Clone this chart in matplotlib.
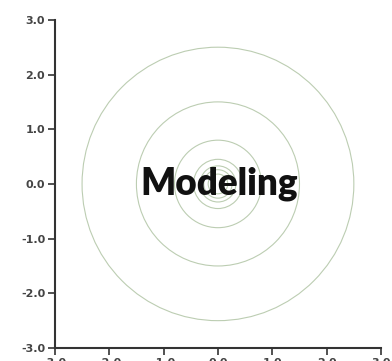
import numpy as np
import matplotlib
matplotlib.use("Agg")
import matplotlib.pyplot as plt
from matplotlib.patches import Circle

# ring radii (data units)
radii = [2.5, 1.5, 0.8, 0.45, 0.33, 0.26, 0.18]
ticks = [-3.0, -2.0, -1.0, 0.0, 1.0, 2.0, 3.0]
title_text = "Modeling"

fig = plt.figure(figsize=(3.92, 3.61), dpi=100)
ax = fig.add_axes([0.140, 0.036, 0.832, 0.909])

for r in radii:
    ax.add_patch(Circle((0, 0), r, fill=False, edgecolor="#bccdb2", linewidth=0.8))

ax.set_xlim(-3, 3)
ax.set_ylim(-3, 3)
ax.set_xticks(ticks)
ax.set_yticks(ticks)
ax.set_xticklabels([f"{t:.1f}" for t in ticks])
ax.set_yticklabels([f"{t:.1f}" for t in ticks])

for side in ["top", "right"]:
    ax.spines[side].set_visible(False)
for side in ["left", "bottom"]:
    ax.spines[side].set_color("#333333")
    ax.spines[side].set_linewidth(1.5)
ax.tick_params(direction="out", length=5, width=1.2, color="#333333",
               labelsize=8, labelcolor="#444444", pad=2)
for lab in ax.get_xticklabels() + ax.get_yticklabels():
    lab.set_fontweight("bold")

ax.text(0.02, 0.0, title_text, ha="center", va="center",
        fontsize=26.5, fontweight="heavy", family="Lato", color="#111111")

fig.savefig("out.png", dpi=100)
